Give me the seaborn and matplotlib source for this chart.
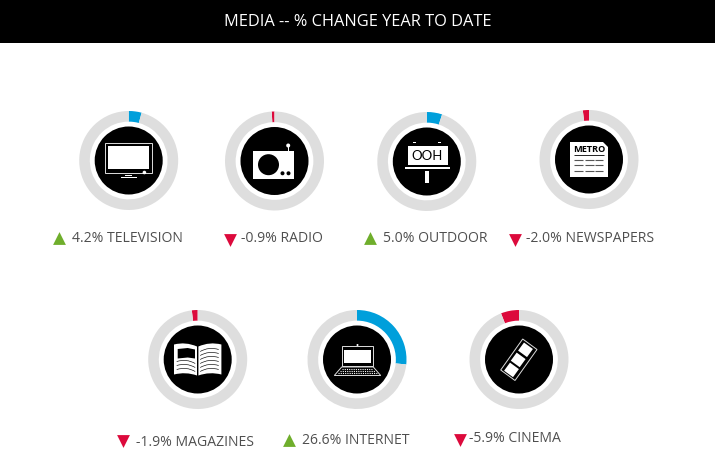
import matplotlib
matplotlib.use("Agg")
import matplotlib.pyplot as plt
import seaborn as sns
from matplotlib.patches import Rectangle, Circle, Polygon, PathPatch
from matplotlib.path import Path

categories = ["TELEVISION", "RADIO", "OUTDOOR", "NEWSPAPERS", "MAGAZINES", "INTERNET", "CINEMA"]
changes = [4.2, -0.9, 5.0, -2.0, -1.9, 26.6, -5.9]
title = "MEDIA -- % CHANGE YEAR TO DATE"

# layout (pixels)
W, H = 715, 458
centres = [(128.7, 160.5), (274.5, 161), (426.8, 161.5), (589, 159.5), (197.7, 359.5), (357, 359.5), (519, 359.5)]
marker_pos = [(58.5, 238), (230, 240), (370, 238), (515, 240), (123, 441), (289, 440), (460, 440)]
label_pos = [(72, 239), (241, 239), (383, 239), (526, 239), (136, 442), (302, 440), (469, 439)]
OUTER = 49.5
BLUE, RED, GREEN, GREY = "#009FDB", "#DC0A3C", "#6FAE2C", "#DEDEDE"
TEXT = "#4F4F4F"

sns.set_theme(style="white")
plt.rcParams["font.family"] = ["Open Sans", "DejaVu Sans"]

fig = plt.figure(figsize=(W / 100, H / 100), dpi=100, facecolor="white")

# donuts
for (cx, cy), v in zip(centres, changes):
    ax = fig.add_axes([(cx - OUTER) / W, 1 - (cy + OUTER) / H, 2 * OUTER / W, 2 * OUTER / H])
    ax.pie([abs(v), 100 - abs(v)], colors=[BLUE if v > 0 else RED, GREY], startangle=90,
           counterclock=v < 0, radius=1, wedgeprops=dict(width=0.215, linewidth=0))
    ax.set_xlim(-1, 1)
    ax.set_ylim(-1, 1)
    ax.set_axis_off()

# overlay in pixel coordinates
ov = fig.add_axes([0, 0, 1, 1], zorder=5)
ov.set_xlim(0, W)
ov.set_ylim(H, 0)
ov.set_axis_off()
ov.patch.set_alpha(0)

ov.add_patch(Rectangle((0, 0), W, 43, color="black", lw=0))
ov.text(358, 22, title, color="white", fontsize=11.8, ha="center", va="center")

for (mx, my), (lx, ly), v, c in zip(marker_pos, label_pos, changes, categories):
    ov.scatter([mx], [my], marker="^" if v > 0 else "v", s=85, color=GREEN if v > 0 else RED, linewidths=0)
    ov.text(lx, ly, f"{v:.1f}% {c}", color=TEXT, fontsize=10.1, ha="left", va="center")


def rect(cx, cy, x0, x1, y0, y1, fc="white", ec="none", lw=0.0, z=3):
    ov.add_patch(Rectangle((cx + x0, cy + y0), x1 - x0, y1 - y0, facecolor=fc, edgecolor=ec, linewidth=lw, zorder=z))


def poly(cx, cy, pts, fc="white", ec="none", lw=0.0, z=3):
    ov.add_patch(Polygon([(cx + x, cy + y) for x, y in pts], closed=True, facecolor=fc, edgecolor=ec, linewidth=lw, zorder=z))


def dot(cx, cy, x, y, r, fc="white", z=3):
    ov.add_patch(Circle((cx + x, cy + y), r, facecolor=fc, linewidth=0, zorder=z))


def hline(cx, cy, x0, x1, y, c="white", lw=0.7, z=3):
    ov.plot([cx + x0, cx + x1], [cy + y, cy + y], color=c, lw=lw, zorder=z, solid_capstyle="butt")


def curve(cx, cy, x0, y0, xm, ym, x1, y1, c="black", lw=0.45, z=5):
    p = Path([(cx + x0, cy + y0), (cx + xm, cy + ym), (cx + x1, cy + y1)], [Path.MOVETO, Path.CURVE3, Path.CURVE3])
    ov.add_patch(PathPatch(p, fc="none", ec=c, lw=lw, zorder=z))


for cx, cy in centres:
    ov.add_patch(Circle((cx, cy), 34, facecolor="black", linewidth=0, zorder=2))

# television
cx, cy = centres[0]
rect(cx, cy, -23.3, 23.3, -18, 12, fc="none", ec="#DDDDDD", lw=0.7)
rect(cx, cy, -20.3, 20.3, -14.7, 8.7)
rect(cx, cy, -3.5, 3.5, 14, 15.2)
rect(cx, cy, -7.5, 8, 16.4, 18)
dot(cx, cy, 15.7, 12, 1.8)

# radio
cx, cy = centres[1]
rect(cx, cy, -21.7, 19.7, -10, 17.7)
dot(cx, cy, -6, 3.7, 10.5, fc="black", z=4)
dot(cx, cy, 8, 12.3, 2, fc="black", z=4)
dot(cx, cy, 14, 12.3, 2, fc="black", z=4)
rect(cx, cy, 13.2, 14.2, -15, -10)
dot(cx, cy, 13.7, -15.5, 2)

# outdoor
cx, cy = centres[2]
rect(cx, cy, -19.3, 20.7, -16, 3.8)
rect(cx, cy, -14, -10.7, -20, -18.6)
rect(cx, cy, 10.7, 14.3, -20, -18.6)
rect(cx, cy, -21.7, 22.7, 5, 7)
rect(cx, cy, -1.5, 2, 9, 21)
ov.text(cx + 0.7, cy - 6, "OOH", color="black", fontsize=9.5, fontweight="normal", ha="center", va="center",
        family="Lato", zorder=5)

# newspaper
cx, cy = centres[3]
rect(cx, cy, -18.7, 19.3, -18, 17.5)
poly(cx, cy, [(14.3, -18), (19.3, -18), (19.3, -13)], fc="black", z=4)
ov.text(cx + 0.2, cy - 9.5, "METRO", color="black", fontsize=6.6, fontweight="bold", ha="center", va="center", zorder=5)
hline(cx, cy, -15, 15, -4.5, c="#222222", lw=0.7, z=5)
for y in (0.5, 5.5, 11):
    for x0, x1 in ((-15, -6.5), (-4, 4.5), (6, 14)):
        hline(cx, cy, x0, x1, y, c="#555555", lw=0.8, z=5)

# magazine
cx, cy = centres[4]
for s in (-1, 1):
    p = Path([(cx + s * 0.7, cy - 13), (cx + s * 12, cy - 18), (cx + s * 23.7, cy - 15),
              (cx + s * 23.7, cy + 15), (cx + s * 12, cy + 12), (cx + s * 0.7, cy + 16), (cx + s * 0.7, cy - 13)],
             [Path.MOVETO, Path.CURVE3, Path.CURVE3, Path.LINETO, Path.CURVE3, Path.CURVE3, Path.CLOSEPOLY])
    ov.add_patch(PathPatch(p, fc="white", ec="none", lw=0, zorder=3))
poly(cx, cy, [(-20, -10.5), (-10, -11.5), (-2.7, -10), (-2.7, -1), (-10, -2), (-20, -1)], fc="black", z=4)
for y in (2, 6, 10):
    curve(cx, cy, -21, y, -11, y - 3, -2.5, y + 2)
for y in (-10, -6, -2, 2, 6, 10):
    curve(cx, cy, 2.5, y + 2, 11, y - 3, 21, y)

# laptop
cx, cy = centres[5]
rect(cx, cy, -15.3, 16.3, -13.5, 6.5, fc="none", ec="#DDDDDD", lw=0.7)
rect(cx, cy, -12.7, 14, -10, 3.8)
dot(cx, cy, 0.5, -14.5, 1)
poly(cx, cy, [(-15.3, 7.5), (16.3, 7.5), (23.7, 16), (-22.7, 16)], fc="none", ec="#DDDDDD", lw=0.7)
for y, a, b in ((9.5, -15, 16), (11.5, -17, 18), (13.5, -19, 20)):
    ov.plot([cx + a, cx + b], [cy + y, cy + y], color="white", lw=0.8, ls=(0, (1, 1)), zorder=4)

# cinema
cx, cy = centres[6]
poly(cx, cy, [(3.7, -20.5), (18, -10), (-4, 21), (-18.3, 10.5)], fc="none", ec="#DDDDDD", lw=0.7)
ux, uy = 0.81, 0.59
vx, vy = -0.59, 0.81
for mx, my in ((6.5, -9.7), (-0.8, 0.4), (-7.5, 10.4)):
    a, b = 5.5, 5.0
    ov.add_patch(Polygon([(cx + mx + sa * ux * a + sb * vx * b, cy + my + sa * uy * a + sb * vy * b)
                          for sa, sb in ((-1, -1), (1, -1), (1, 1), (-1, 1))],
                         closed=True, facecolor="white", linewidth=0, zorder=3))

fig.savefig("out.png", dpi=100)
